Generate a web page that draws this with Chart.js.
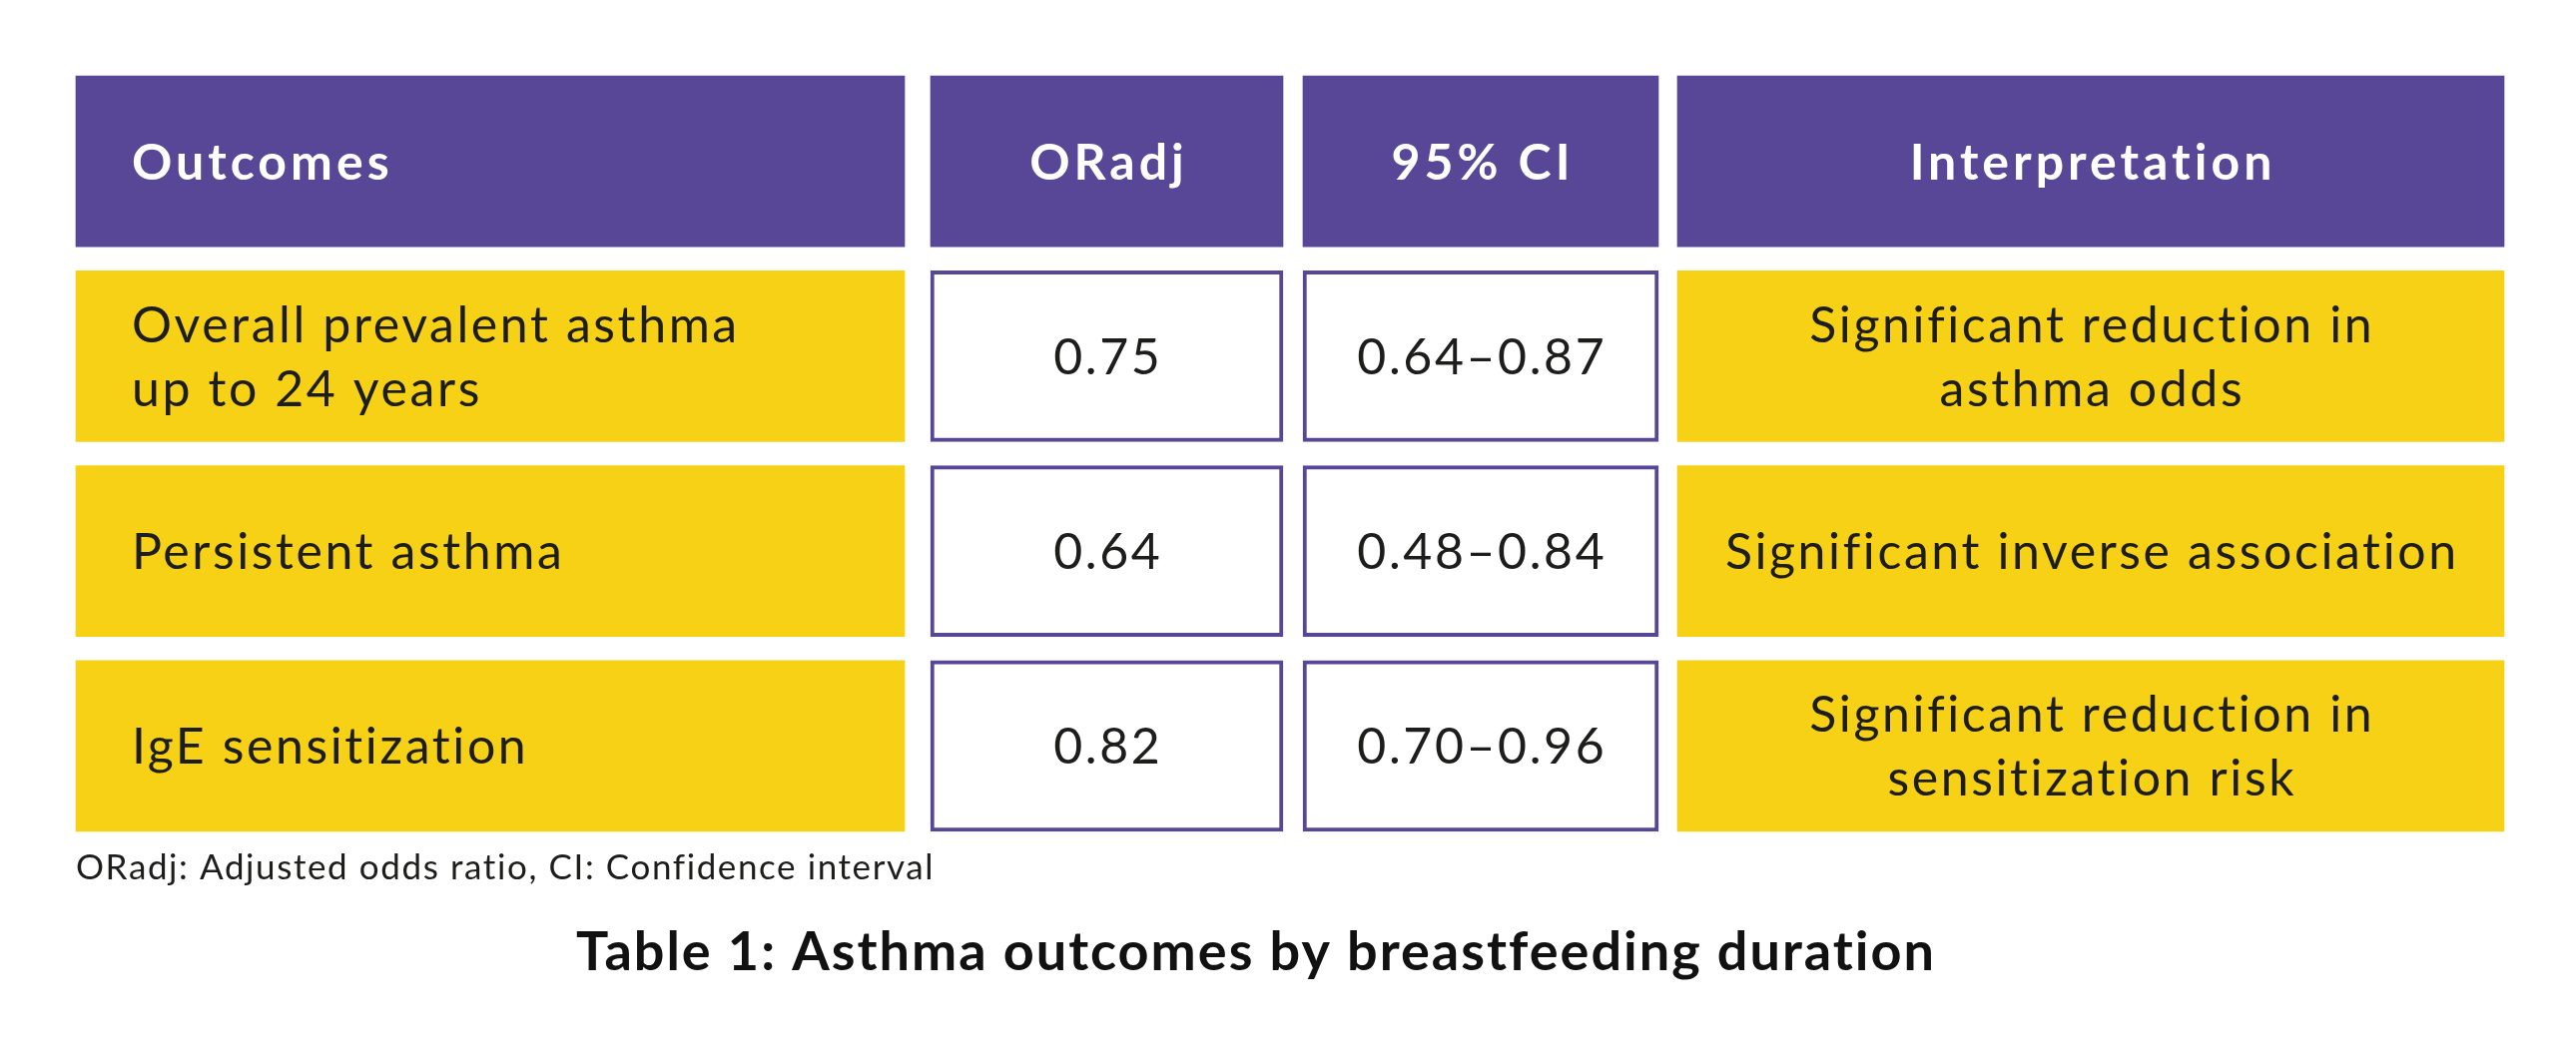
<!DOCTYPE html>
<html>
<head>
<meta charset="utf-8">
<script src="https://cdn.jsdelivr.net/npm/chart.js@4.4.0/dist/chart.umd.min.js"></script>
<style>
  html, body { margin: 0; background: #fff; }
  #wrap { width: 2580px; height: 1063px; position: relative; }
</style>
</head>
<body>
<div id="wrap"><canvas id="tbl"></canvas></div>
<script>
'use strict';

// ── Table content ────────────────────────────────────────────────────────────

const columns         = ['Outcomes', 'ORadj', '95% CI', 'Interpretation'];
const outcomes        = [['Overall prevalent asthma', 'up to 24 years'],
                         ['Persistent asthma'],
                         ['IgE sensitization']];
const orAdj           = ['0.75', '0.64', '0.82'];
const ciRanges        = ['0.64–0.87', '0.48–0.84', '0.70–0.96'];
const interpretations = [['Significant reduction in', 'asthma odds'],
                         ['Significant inverse association'],
                         ['Significant reduction in', 'sensitization risk']];
const footnote = 'ORadj: Adjusted odds ratio, CI: Confidence interval';
const caption  = 'Table 1: Asthma outcomes by breastfeeding duration';

// ── Layout / style ───────────────────────────────────────────────────────────

const PURPLE = '#574796';
const YELLOW = '#f7d115';
const INK    = '#1d1d1b';
const FONT   = 'Lato, "Open Sans", sans-serif';

// column spans along the (hidden) x axis, in page units
const COL_SPANS = [[76, 906], [932, 1285], [1305, 1661], [1680, 2508]];
const ROW_KEYS  = ['head', 'r1', 'r2', 'r3'];
const BODY_SIZE = 50;
const LINE_GAP  = 64;

// cell text for column c, row r (r = 0 is the header)
function cellLines(c, r) {
  if (r === 0) return [columns[c]];
  const i = r - 1;
  return [outcomes[i], [orAdj[i]], [ciRanges[i]], interpretations[i]][c];
}

const datasets = columns.map((name, c) => {
  const white = c === 1 || c === 2;
  return {
    label: name,
    data: ROW_KEYS.map(() => COL_SPANS[c]),
    backgroundColor: ROW_KEYS.map((k, r) => r === 0 ? PURPLE : (white ? '#ffffff' : YELLOW)),
    borderColor: PURPLE,
    borderWidth: ROW_KEYS.map((k, r) => r > 0 && white ? 4 : 0),
    borderSkipped: false,
    grouped: false,
    barThickness: 171,
  };
});

// ── Text drawing ─────────────────────────────────────────────────────────────

// canvas text with extra tracking; keeps centred text centred
function spacedText(ctx, text, x, y, spacing) {
  ctx.letterSpacing = spacing + 'px';
  const shift = ctx.textAlign === 'center' ? spacing / 2 : 0;
  ctx.fillText(text, x + shift, y);
  ctx.letterSpacing = '0px';
}

const cellText = {
  id: 'cellText',
  afterDatasetsDraw(chart) {
    const ctx = chart.ctx;
    ctx.save();
    ctx.textBaseline = 'alphabetic';
    chart.data.datasets.forEach((ds, c) => {
      chart.getDatasetMeta(c).data.forEach((bar, r) => {
        const p = bar.getProps(['x', 'y', 'base'], true);
        const left = Math.min(p.x, p.base), right = Math.max(p.x, p.base);
        const lines = cellLines(c, r);
        ctx.font = (r === 0 ? '700 ' : '400 ') + BODY_SIZE + 'px ' + FONT;
        ctx.fillStyle = r === 0 ? '#ffffff' : INK;
        let tx;
        if (c === 0) { ctx.textAlign = 'left'; tx = left + 56; }
        else { ctx.textAlign = 'center'; tx = (left + right) / 2; }
        const base0 = p.y + BODY_SIZE * 0.36 - (lines.length - 1) * LINE_GAP / 2;
        lines.forEach((ln, k) => spacedText(ctx, ln, tx, base0 + k * LINE_GAP, r === 0 ? 4 : 2.6));
      });
    });

    // footnote and caption beneath the table
    ctx.textAlign = 'left';
    ctx.fillStyle = INK;
    ctx.font = '400 35px ' + FONT;
    spacedText(ctx, footnote, COL_SPANS[0][0], 881, 1.6);
    ctx.textAlign = 'center';
    ctx.fillStyle = '#111111';
    ctx.font = '700 54px ' + FONT;
    spacedText(ctx, caption, 1257, 972, 2);
    ctx.restore();
  }
};

new Chart(document.getElementById('tbl'), {
  type: 'bar',
  data: { labels: ROW_KEYS, datasets },
  options: {
    indexAxis: 'y',
    responsive: true,
    maintainAspectRatio: false,
    animation: false,
    events: [],
    layout: { padding: { top: 64, bottom: 218, left: 0, right: 0 } },
    scales: {
      x: { type: 'linear', min: 0, max: 2580, display: false },
      y: { display: false },
    },
    plugins: {
      legend: { display: false },
      tooltip: { enabled: false },
    },
  },
  plugins: [cellText],
});
</script>
</body>
</html>
